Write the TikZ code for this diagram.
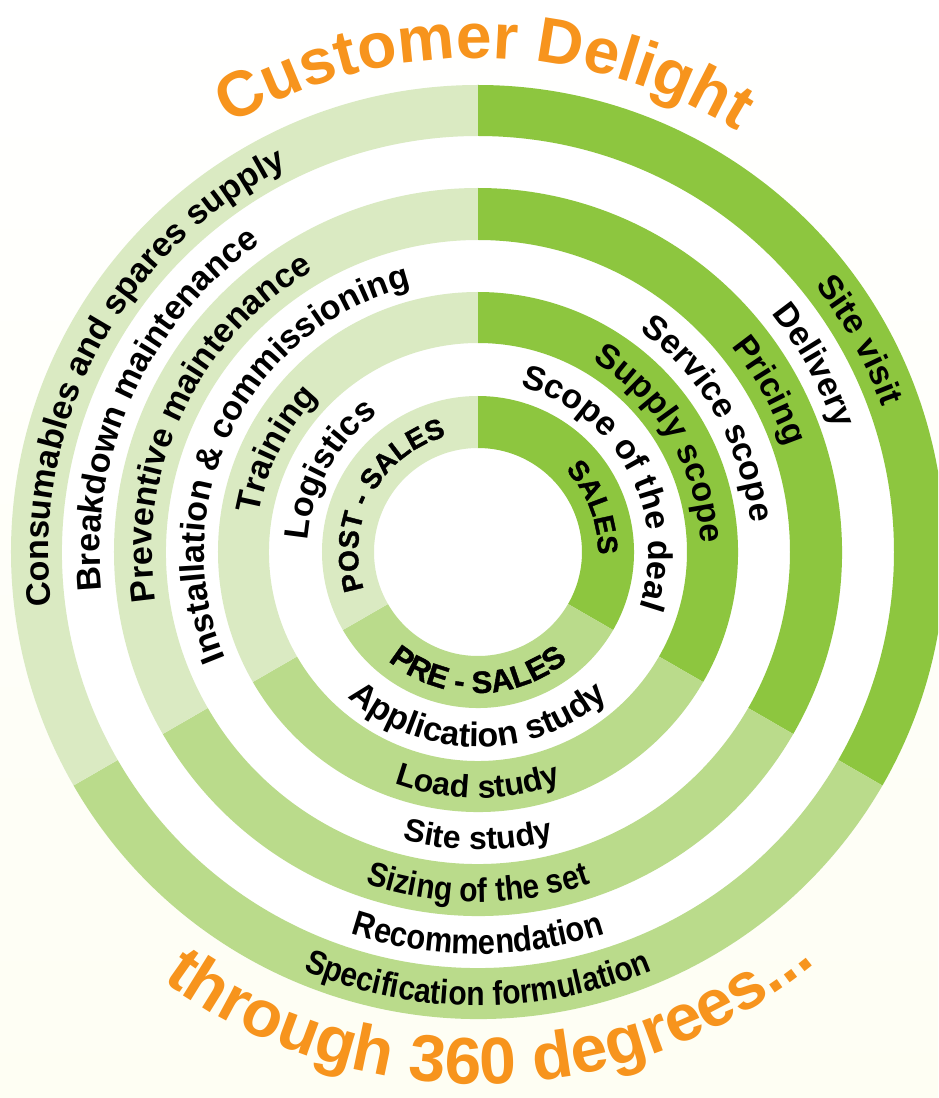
\documentclass[tikz,border=0pt]{standalone}
\usepackage{fontspec}
\setmainfont{Liberation Sans}
\newfontfamily\heavyfont{Liberation Sans}[BoldFeatures={FakeBold=1.3}]
\newfontfamily\narrowfont{Liberation Sans}[FakeStretch=0.88]
\usetikzlibrary{decorations.text}
\definecolor{dkgreen}{RGB}{141,198,63}
\definecolor{mdgreen}{RGB}{186,219,139}
\definecolor{ltgreen}{RGB}{218,234,194}
\definecolor{orangeT}{RGB}{247,148,29}
\definecolor{ivoryBG}{RGB}{254,254,243}
\newcommand\lblfont[1]{\fontsize{#1}{#1}\selectfont\bfseries}
\newcommand\nrwfont[1]{\narrowfont\fontsize{#1}{#1}\selectfont\bfseries}
\newcommand\hvyfont[1]{\heavyfont\fontsize{#1}{#1}\selectfont\bfseries}
% inner radius, outer radius, angle a, angle b, colour
\newcommand\ringsector[5]{\fill[#5] (#3:#2) arc[start angle=#3,end angle=#4,radius=#2] -- (#4:#1) arc[start angle=#4,end angle=#3,radius=#1] -- cycle;}
% [extra] baseline radius, centre angle, font, text   (clockwise: letter tops outward)
\newcommand\cwtext[5][]{\path[decorate,decoration={text along path,text align=center,#1,text={|#4|#5}}] (#3+85:#2) arc[start angle=#3+85,end angle=#3-85,radius=#2];}
% counter-clockwise: letter tops inward
\newcommand\ccwtext[5][]{\path[decorate,decoration={text along path,text align=center,#1,text={|#4|#5}}] (#3-85:#2) arc[start angle=#3-85,end angle=#3+85,radius=#2];}
\begin{document}
\begin{tikzpicture}[x=1pt,y=1pt]
\useasboundingbox (-478pt,-546pt) rectangle (460pt,552pt);
\clip (-478pt,-546pt) rectangle (460pt,552pt);
\shade[top color=white,bottom color=ivoryBG] (-478pt,-546pt) rectangle (460pt,552pt);
\fill[white] (0,0) circle[radius=467pt];
% bands: right (dark), bottom (medium), left (light)
\foreach \ri/\ro in {104pt/156pt,209pt/260pt,312pt/364pt,416pt/467pt}{
  \ringsector{\ri}{\ro}{-30}{90}{dkgreen}
  \ringsector{\ri}{\ro}{-150}{-30}{mdgreen}
  \ringsector{\ri}{\ro}{90}{210}{ltgreen}
}
% inner ring
\cwtext{120pt}{151.7}{\hvyfont{28}}{POST - SALES}
\cwtext{120pt}{21}{\hvyfont{28}}{SALES}
\ccwtext{141pt}{-90}{\hvyfont{31}}{PRE - SALES}
% ring 2 (white)
\cwtext{170.5pt}{151}{\lblfont{34}}{Logistics}
\cwtext{170.5pt}{28.4}{\lblfont{34}}{Scope of the deal}
\ccwtext{195pt}{-90}{\lblfont{34}}{Application study}
% ring 3
\cwtext{222.5pt}{153}{\lblfont{34}}{Training}
\cwtext{222.5pt}{30.6}{\lblfont{34}}{Supply scope}
\ccwtext{246pt}{-90}{\lblfont{32}}{Load study}
% ring 4 (white)
\cwtext{274pt}{153.5}{\lblfont{34}}{Installation {\&} commissioning}
\cwtext{274pt}{30}{\lblfont{34}}{Service scope}
\ccwtext{297.5pt}{-90}{\lblfont{32}}{Site study}
% ring 5
\cwtext{326pt}{154.5}{\lblfont{34}}{Preventive maintenance}
\cwtext{326pt}{29}{\lblfont{34}}{Pricing}
\ccwtext{350pt}{-90}{\nrwfont{34}}{Sizing of the set}
% ring 6 (white)
\cwtext{378pt}{155.5}{\lblfont{34}}{Breakdown maintenance}
\cwtext{378pt}{29}{\lblfont{34}}{Delivery}
\ccwtext{402pt}{-90}{\nrwfont{35}}{Recommendation}
% ring 7
\cwtext{429.5pt}{151.8}{\lblfont{34}}{Consumables and spares supply}
\cwtext{429.5pt}{29}{\lblfont{34}}{Site visit}
\ccwtext{453.5pt}{-90}{\nrwfont{34}}{Specification formulation}
% titles
\cwtext[text color=orangeT]{494pt}{89.2}{\lblfont{64}}{Customer Delight}
\ccwtext[text color=orangeT]{532pt}{-88.5}{\lblfont{66}}{through 360 degrees...}
\end{tikzpicture}
\end{document}
